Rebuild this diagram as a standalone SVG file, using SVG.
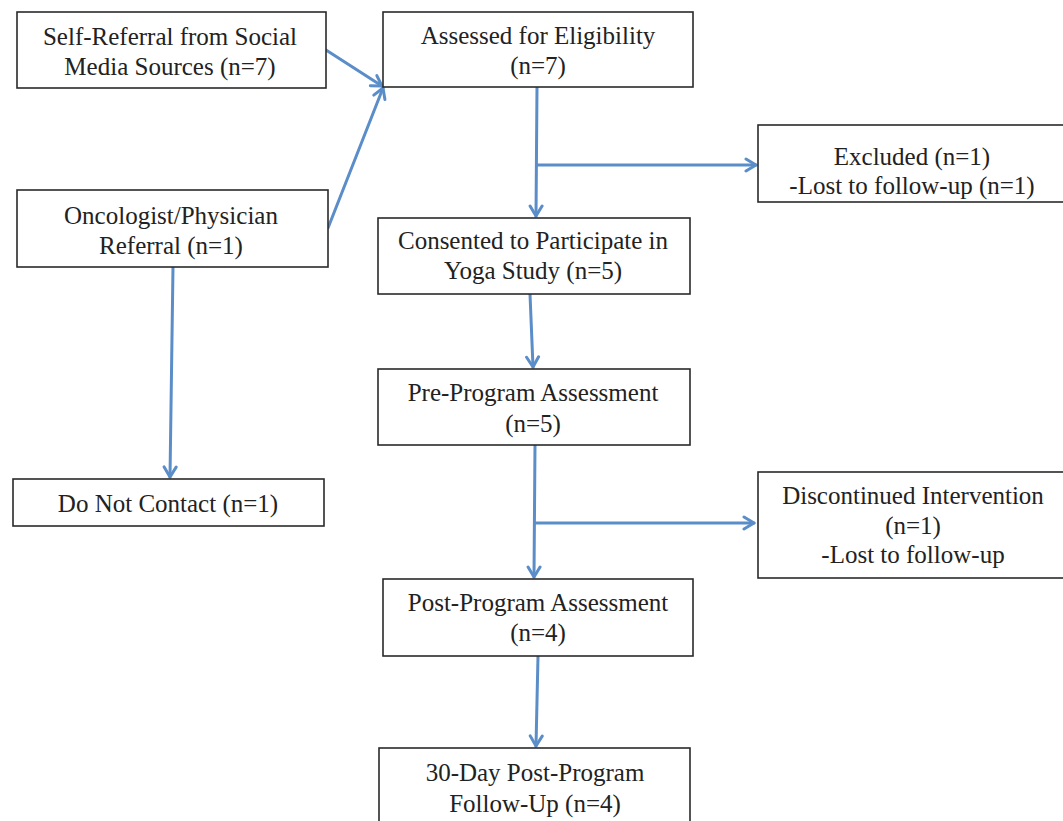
<svg xmlns="http://www.w3.org/2000/svg" width="1063" height="821" viewBox="0 0 1063 821">
<defs>
<marker id="arr" viewBox="0 0 14 16" refX="12" refY="8" markerWidth="14" markerHeight="16" markerUnits="userSpaceOnUse" orient="auto">
<path d="M2,2 L12,8 L2,14" fill="none" stroke="#5b8dc8" stroke-width="3" stroke-linecap="round" stroke-linejoin="round"/>
</marker>
<style>
.box{fill:#fff;stroke:#2a2a2a;stroke-width:1.6}
.t{font-family:"Liberation Serif","Times New Roman",serif;font-size:25px;fill:#222;text-anchor:middle}
.c{fill:none;stroke:#5b8dc8;stroke-width:3;stroke-linecap:round}
</style>
</defs>
<rect width="1063" height="821" fill="#fff"/>
<g id="connectors">
<line class="c" x1="326" y1="50" x2="382" y2="86" marker-end="url(#arr)"/>
<line class="c" x1="328" y1="228" x2="383" y2="88" marker-end="url(#arr)"/>
<line class="c" x1="537" y1="87" x2="536" y2="216" marker-end="url(#arr)"/>
<line class="c" x1="537" y1="165" x2="756" y2="165" marker-end="url(#arr)"/>
<line class="c" x1="173" y1="267" x2="170" y2="477" marker-end="url(#arr)"/>
<line class="c" x1="530" y1="294" x2="533" y2="367" marker-end="url(#arr)"/>
<line class="c" x1="535" y1="445" x2="534" y2="577" marker-end="url(#arr)"/>
<line class="c" x1="535" y1="523" x2="754" y2="523" marker-end="url(#arr)"/>
<line class="c" x1="538" y1="656" x2="536" y2="746" marker-end="url(#arr)"/>
</g>
<g id="n-self">
<rect class="box" x="17" y="12" width="309" height="76"/>
<text class="t" x="170" y="45">Self-Referral from Social</text>
<text class="t" x="170" y="75">Media Sources (n=7)</text>
</g>
<g id="n-assessed">
<rect class="box" x="383" y="12" width="310" height="75"/>
<text class="t" x="538" y="44">Assessed for Eligibility</text>
<text class="t" x="538" y="74">(n=7)</text>
</g>
<g id="n-excluded">
<rect class="box" x="758" y="125" width="310" height="77"/>
<text class="t" x="912" y="165">Excluded (n=1)</text>
<text class="t" x="912" y="194">-Lost to follow-up (n=1)</text>
</g>
<g id="n-onco">
<rect class="box" x="17" y="190" width="311" height="77"/>
<text class="t" x="171" y="224">Oncologist/Physician</text>
<text class="t" x="171" y="254">Referral (n=1)</text>
</g>
<g id="n-consented">
<rect class="box" x="378" y="218" width="312" height="76"/>
<text class="t" x="533" y="249">Consented to Participate in</text>
<text class="t" x="533" y="279">Yoga Study (n=5)</text>
</g>
<g id="n-pre">
<rect class="box" x="378" y="369" width="312" height="76"/>
<text class="t" x="533" y="401">Pre-Program Assessment</text>
<text class="t" x="533" y="432">(n=5)</text>
</g>
<g id="n-dnc">
<rect class="box" x="13" y="479" width="311" height="47"/>
<text class="t" x="168" y="512">Do Not Contact (n=1)</text>
</g>
<g id="n-discontinued">
<rect class="box" x="758" y="472" width="310" height="106"/>
<text class="t" x="913" y="504">Discontinued Intervention</text>
<text class="t" x="913" y="534">(n=1)</text>
<text class="t" x="913" y="563">-Lost to follow-up</text>
</g>
<g id="n-post">
<rect class="box" x="383" y="579" width="310" height="77"/>
<text class="t" x="538" y="611">Post-Program Assessment</text>
<text class="t" x="538" y="641">(n=4)</text>
</g>
<g id="n-30day">
<rect class="box" x="379" y="748" width="311" height="82"/>
<text class="t" x="535" y="781">30-Day Post-Program</text>
<text class="t" x="535" y="812">Follow-Up (n=4)</text>
</g>
</svg>
